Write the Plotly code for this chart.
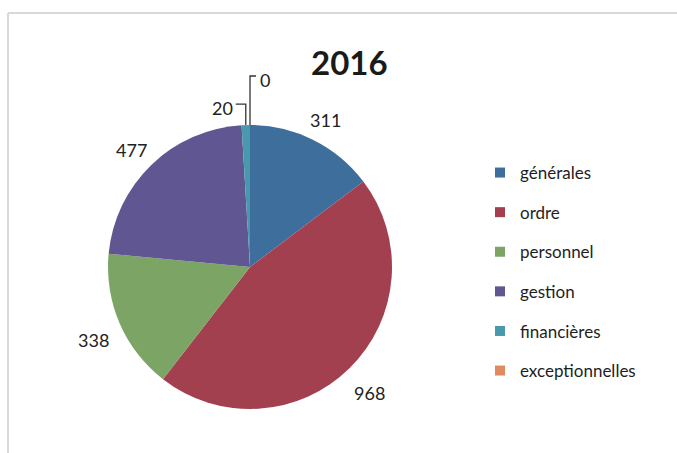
import math
import plotly.graph_objects as go

categories = ["générales", "ordre", "personnel", "gestion", "financières", "exceptionnelles"]
values = [311, 968, 338, 477, 20, 0]
colors = ["#3e6f9c", "#a3404f", "#7ca465", "#605691", "#4898ae", "#e08a63"]
title_text = "2016"

W, H = 677, 453
# pie geometry (pixels)
cx, cy, R = 250, 267, 142

fig = go.Figure()
fig.add_trace(go.Pie(
    labels=categories, values=values, sort=False, direction="clockwise", rotation=0,
    marker=dict(colors=colors, line=dict(width=0)),
    textinfo="none", showlegend=False,
    domain=dict(x=[(cx - R) / W, (cx + R) / W], y=[1 - (cy + R) / H, 1 - (cy - R) / H]),
))

# legend via marker-only traces, one group each for spacing
for i, (c, col) in enumerate(zip(categories, colors)):
    fig.add_trace(go.Scatter(
        x=[None], y=[None], mode="markers", name=c, legendgroup=str(i),
        marker=dict(symbol="square", size=10, color=col),
    ))

def px2paper(x, y):
    return x / W, 1 - y / H

total = sum(values)
cum = 0
font_lbl = dict(family="Lato, Carlito, sans-serif", size=18, color="#222")
annotations = []
shapes = []
for i, v in enumerate(values):
    mid = (cum + v / 2) / total * 2 * math.pi
    cum += v
    frac = v / total
    if frac >= 0.05:
        r = 170
        lx = cx + r * math.sin(mid)
        ly = cy - r * math.cos(mid) + 5
        x, y = px2paper(lx, ly)
        annotations.append(dict(x=x, y=y, xref="paper", yref="paper", text=str(v),
                                showarrow=False, font=font_lbl, xanchor="center", yanchor="middle"))
    else:
        ex = cx + R * math.sin(mid)
        ey = cy - R * math.cos(mid)
        if v > 0:
            # leader up then left
            ty = ey - 21
            pts = [(ex, ey), (ex, ty), (ex - 10, ty)]
            tx, anchor = ex - 11, "right"
        else:
            ty = ey - 49
            pts = [(ex, ey), (ex, ty), (ex + 6, ty)]
            tx, anchor = ex + 8, "left"
        path = "M " + " L ".join(f"{px2paper(a, b)[0]},{px2paper(a, b)[1]}" for a, b in pts)
        shapes.append(dict(type="path", path=path, xref="paper", yref="paper",
                           line=dict(color="#333", width=1.3)))
        x, y = px2paper(tx, ty + 4)
        annotations.append(dict(x=x, y=y, xref="paper", yref="paper", text=str(v),
                                showarrow=False, font=font_lbl, xanchor=anchor, yanchor="middle"))

annotations.append(dict(x=349 / W, y=1 - 62 / H, xref="paper", yref="paper", text="<b>" + title_text + "</b>",
                        showarrow=False, font=dict(family="Lato, Carlito, sans-serif", size=33, color="#1a1a1a"),
                        xanchor="center", yanchor="middle"))

# faint chart border (top and left edges visible in the scan)
shapes.append(dict(type="line", xref="paper", yref="paper", x0=8 / W, x1=1, y0=1 - 13 / H, y1=1 - 13 / H,
                   line=dict(color="#d9d9d9", width=2)))
shapes.append(dict(type="line", xref="paper", yref="paper", x0=8 / W, x1=8 / W, y0=1 - 13 / H, y1=0,
                   line=dict(color="#d9d9d9", width=2)))

fig.update_layout(
    width=W, height=H, margin=dict(l=0, r=0, t=0, b=0),
    paper_bgcolor="white", plot_bgcolor="white",
    xaxis=dict(visible=False), yaxis=dict(visible=False),
    legend=dict(x=480 / W, y=1 - 155 / H, xanchor="left", yanchor="top",
                font=dict(family="Lato, Carlito, sans-serif", size=17, color="#1e1e1e"),
                tracegroupgap=14.5, bgcolor="rgba(0,0,0,0)"),
    annotations=annotations, shapes=shapes,
)
fig.write_html("out.html", config={"displayModeBar": False},
               post_script="document.body.style.margin='0';document.body.style.overflow='hidden';")
